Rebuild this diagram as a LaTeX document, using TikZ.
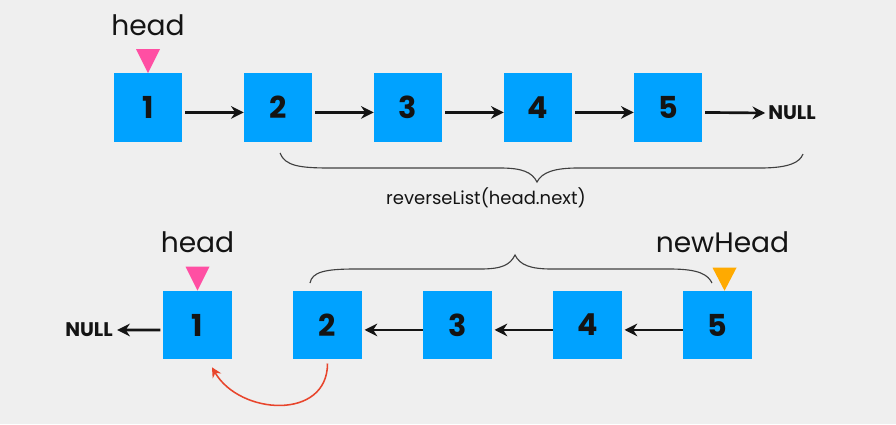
\documentclass[tikz,border=0pt]{standalone}
\usepackage{fontspec}
\setmainfont{Poppins}
\usepackage{tikz}
\usetikzlibrary{calc}
\usetikzlibrary{positioning}
\usetikzlibrary{arrows.meta}
\definecolor{bgray}{HTML}{EFEFEF}
\definecolor{nodeblue}{HTML}{00A2FF}
\definecolor{headpink}{HTML}{FF4FA3}
\definecolor{headorange}{HTML}{FFAA00}
\definecolor{backred}{HTML}{E8452C}
\definecolor{inkblack}{HTML}{141414}
\tikzset{
    listnode/.style={
        fill=nodeblue,
        minimum size=1.7cm,
        inner sep=0pt,
        font=\bfseries\fontsize{21.5}{21.5}\selectfont,
        text=inkblack
    },
    % black arrow from one node to the next
    nextarrow/.style={
        line width=1.9pt,
        inkblack,
        ->,
        >={Stealth[length=9pt, width=9pt]}
    },
    % red arrow back to node 1
    backarrow/.style={
        line width=1.1pt,
        backred,
        ->,
        >={Stealth[length=7pt, width=7pt]}
    },
    nulltext/.style={
        inner sep=0pt,
        font=\bfseries\fontsize{14}{14}\selectfont,
        text=inkblack
    },
    ptrtext/.style={
        inner sep=0pt,
        font=\fontsize{20}{20}\selectfont,
        text=inkblack
    },
    bracepath/.style={
        line width=0.8pt,
        black!75
    }
}

\begin{document}
\begin{tikzpicture}[x=0.025cm,y=-0.025cm]
	\fill[bgray] (0,0) rectangle (896,424);
	\useasboundingbox (0,0) rectangle (896,424);
	
	% 上面一行
	\foreach \i in {1,...,5}
		\node[listnode] (t\i) at (18+130*\i,107.5) {\i};
	\node[nulltext,anchor=west] (nulltop) at (768,113) {NULL};
	
	\foreach \i/\j in {1/2,2/3,3/4,4/5}
		\draw[nextarrow,shorten <=2pt] ([yshift=-3.5pt]t\i.east) -- ([yshift=-3.5pt]t\j.west);
	\draw[nextarrow,shorten <=2pt,shorten >=2pt] ([yshift=-3.5pt]t5.east) -- (nulltop.west);
	
	\fill[headpink] (t1.north) -- ++(-12,-24) -- ++(24,0) -- cycle;
	\node[ptrtext] (headtop) at ($(t1.north)+(0,-48)$) {head};
	
	% 大括号
	\draw[bracepath] (280,153) .. controls (285,166) and (300,168) .. (330,168)
		-- (500,168) .. controls (522,168) and (532,172) .. (537,182)
		.. controls (542,172) and (555,168) .. (578,168)
		-- (760,168) .. controls (790,168) and (800,162) .. (803,154);
	\node[inner sep=0pt,font=\fontsize{12.8}{12.8}\selectfont,text=inkblack] (calllbl) at (486,198) {reverseList(head.next)};
	
	% 下面一行
	\foreach \i in {1,...,5}
		\node[listnode] (b\i) at (67.5+130*\i,325) {\i};
	\node[nulltext,anchor=east] (nullbot) at (113,330) {NULL};
	
	\foreach \i/\j in {5/4,4/3,3/2}
		\draw[nextarrow,shorten >=2pt] ([yshift=-3.5pt]b\i.west) -- ([yshift=-3.5pt]b\j.east);
	\draw[nextarrow,shorten <=2pt,shorten >=3pt] ([yshift=-3.5pt]b1.west) -- (nullbot.east);
	
	\fill[headpink] (b1.north) -- ++(-12,-24) -- ++(24,0) -- cycle;
	\node[ptrtext] (headbot) at ($(b1.north)+(0,-48)$) {head};
	\fill[headorange] ([xshift=5pt]b5.north) -- ++(-12,-23) -- ++(24,0) -- cycle;
	\node[ptrtext] (newhead) at ($(b5.north)+(5,-48)$) {newHead};
	
	\draw[bracepath] (310,283) .. controls (312,272) and (325,269) .. (355,269)
		-- (480,269) .. controls (502,269) and (510,265) .. (515,255)
		.. controls (520,265) and (530,269) .. (552,269)
		-- (670,269) .. controls (700,269) and (708,275) .. (712,283);
	
	% 红色箭头
	\draw[backarrow] ([yshift=-3pt]b2.south) .. controls +(0,57) and +(28,48) .. ([xshift=10.3pt,yshift=-5.7pt]b1.south);
\end{tikzpicture}
\end{document}
